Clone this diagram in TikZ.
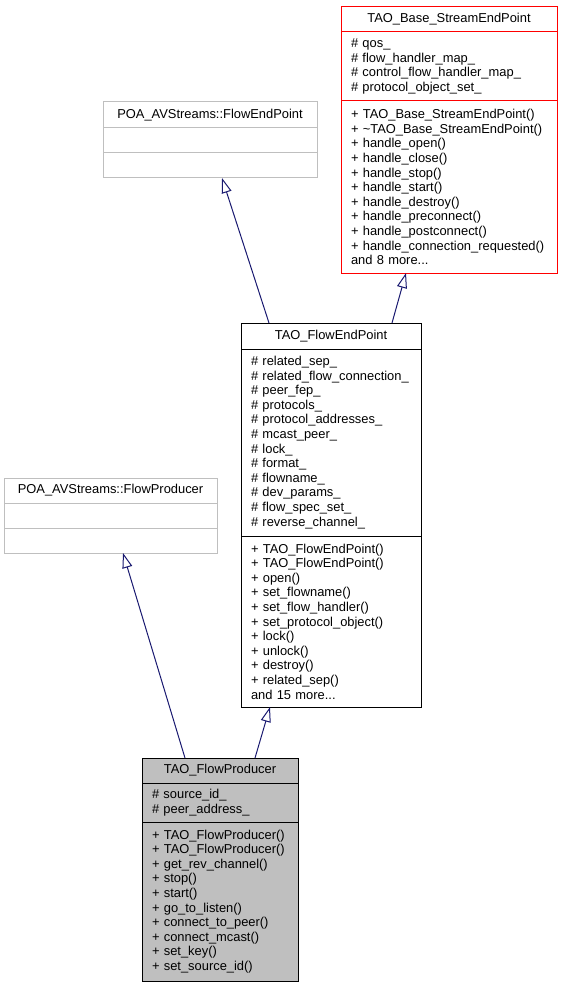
\documentclass[tikz,border=0pt]{standalone}
\usepackage{fontspec}
\setmainfont{Liberation Sans}
\usepackage{xcolor}
\usetikzlibrary{positioning}
\usetikzlibrary{arrows.meta}
\tikzset{>={Triangle[open,width=10pt,length=15pt]}}
\definecolor{edgeblue}{HTML}{191970}
\definecolor{boxgray}{HTML}{BFBFBF}
\definecolor{boxred}{HTML}{FF0000}

\begin{document}
\begin{tikzpicture}[x=1pt, y=-1pt, font=\fontsize{12.9}{14.6}\selectfont, title/.style={draw, outer sep=0pt, inner sep=0pt, line width=1pt, anchor=north west, minimum height=25pt}, part/.style={draw, outer sep=0pt, inner xsep=10pt, inner ysep=0pt, line width=1pt, align=left}, inherit/.style={->, draw=edgeblue, line width=1pt}]
    \useasboundingbox (0,0) rectangle (563,987);

    %Nodes
    \node[title, draw=boxred, minimum width=216pt](baseT) at (341,7) {TAO\_Base\_StreamEndPoint};
    \node[part, draw=boxred, text width=196pt, minimum height=69pt](baseA)[below=0pt of baseT]{\# qos\_\\\# flow\_handler\_map\_\\\# control\_flow\_handler\_map\_\\\# protocol\_object\_set\_};
    \node[part, draw=boxred, text width=196pt, minimum height=172pt](baseM)[below=0pt of baseA]{+ TAO\_Base\_StreamEndPoint()\\+ \textasciitilde TAO\_Base\_StreamEndPoint()\\+ handle\_open()\\+ handle\_close()\\+ handle\_stop()\\+ handle\_start()\\+ handle\_destroy()\\+ handle\_preconnect()\\+ handle\_postconnect()\\+ handle\_connection\_requested()\\and 8 more...};

    \node[title, draw=boxgray, minimum width=214pt, minimum height=26pt](poafepT) at (103,102) {POA\_AVStreams::FlowEndPoint};
    \node[part, draw=boxgray, text width=194pt, minimum height=25pt](poafepA)[below=0pt of poafepT]{};
    \node[part, draw=boxgray, text width=194pt, minimum height=25pt](poafepO)[below=0pt of poafepA]{};

    \node[title, minimum width=180pt, minimum height=26pt](fepT) at (241,323) {TAO\_FlowEndPoint};
    \node[part, text width=160pt, minimum height=187pt](fepA)[below=0pt of fepT]{\# related\_sep\_\\\# related\_flow\_connection\_\\\# peer\_fep\_\\\# protocols\_\\\# protocol\_addresses\_\\\# mcast\_peer\_\\\# lock\_\\\# format\_\\\# flowname\_\\\# dev\_params\_\\\# flow\_spec\_set\_\\\# reverse\_channel\_};
    \node[part, text width=160pt, minimum height=171pt](fepM)[below=0pt of fepA]{+ TAO\_FlowEndPoint()\\+ TAO\_FlowEndPoint()\\+ open()\\+ set\_flowname()\\+ set\_flow\_handler()\\+ set\_protocol\_object()\\+ lock()\\+ unlock()\\+ destroy()\\+ related\_sep()\\and 15 more...};

    \node[title, draw=boxgray, minimum width=213pt](poafpT) at (4,478) {POA\_AVStreams::FlowProducer};
    \node[part, draw=boxgray, text width=193pt, minimum height=25pt](poafpA)[below=0pt of poafpT]{};
    \node[part, draw=boxgray, text width=193pt, minimum height=25pt](poafpO)[below=0pt of poafpA]{};

    \node[title, fill=boxgray, minimum width=156pt](fpT) at (142,758) {TAO\_FlowProducer};
    \node[part, fill=boxgray, text width=136pt, minimum height=39pt](fpA)[below=0pt of fpT]{\# source\_id\_\\\# peer\_address\_};
    \node[part, fill=boxgray, text width=136pt, minimum height=159pt](fpM)[below=0pt of fpA]{+ TAO\_FlowProducer()\\+ TAO\_FlowProducer()\\+ get\_rev\_channel()\\+ stop()\\+ start()\\+ go\_to\_listen()\\+ connect\_to\_peer()\\+ connect\_mcast()\\+ set\_key()\\+ set\_source\_id()};

    %Lines
    \draw[inherit] ([xshift=151pt]fepT.north west) -- ([xshift=65pt]baseM.south west);
    \draw[inherit] ([xshift=28pt]fepT.north west) -- ([xshift=119pt]poafepO.south west);
    \draw[inherit] ([xshift=113pt]fpT.north west) -- ([xshift=29pt]fepM.south west);
    \draw[inherit] ([xshift=43pt]fpT.north west) -- ([xshift=119pt]poafpO.south west);

\end{tikzpicture}
\end{document}
